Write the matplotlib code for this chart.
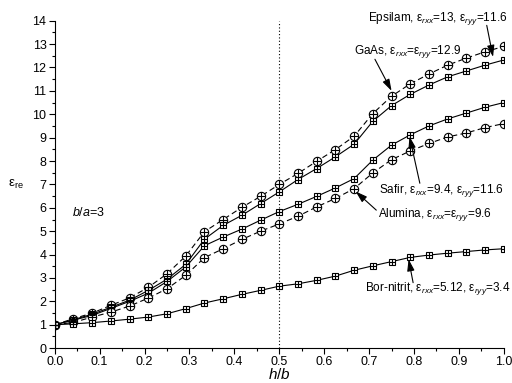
import numpy as np
import matplotlib
matplotlib.use("Agg")
import matplotlib.pyplot as plt
from matplotlib.ticker import MultipleLocator, FormatStrFormatter

plt.rcParams["font.family"] = ["Liberation Sans", "DejaVu Sans"]
plt.rcParams["mathtext.fontset"] = "custom"
plt.rcParams["mathtext.rm"] = "Liberation Sans"
plt.rcParams["mathtext.it"] = "Liberation Sans:italic"

h_b = np.arange(25) / 24.0

gaas = [1.0, 1.26, 1.5, 1.83, 2.15, 2.6, 3.18, 3.94, 4.98, 5.5, 6.02, 6.49, 7.0,
        7.47, 7.99, 8.49, 9.06, 10.03, 10.77, 11.3, 11.72, 12.1, 12.4, 12.67, 12.9]
epsilam = [1.0, 1.22, 1.45, 1.75, 2.05, 2.47, 2.95, 3.58, 4.66, 5.25, 5.68, 6.18, 6.68,
           7.21, 7.68, 8.18, 8.72, 9.7, 10.37, 10.85, 11.25, 11.6, 11.85, 12.1, 12.32]
safir = [1.0, 1.2, 1.4, 1.7, 2.0, 2.35, 2.85, 3.47, 4.38, 4.75, 5.09, 5.47, 5.84,
         6.15, 6.49, 6.85, 7.25, 8.04, 8.68, 9.12, 9.5, 9.8, 10.05, 10.3, 10.5]
alumina = [1.0, 1.1, 1.33, 1.54, 1.8, 2.14, 2.54, 3.11, 3.87, 4.25, 4.65, 5.0, 5.31,
           5.64, 6.04, 6.4, 6.82, 7.49, 8.06, 8.43, 8.75, 9.03, 9.2, 9.43, 9.6]
bor_nitrit = [1.0, 1.04, 1.09, 1.16, 1.24, 1.33, 1.47, 1.69, 1.93, 2.11, 2.3, 2.47, 2.65,
              2.75, 2.9, 3.08, 3.33, 3.52, 3.7, 3.88, 3.98, 4.06, 4.13, 4.2, 4.25]

fig = plt.figure(figsize=(5.12, 3.83), dpi=100)
ax = fig.add_axes([0.107, 0.091, 0.877, 0.855])


def curve(y, marker, ls):
    ms = 6 if marker == "o" else 5
    ax.plot(h_b, y, color="black", lw=0.8, ls=ls, marker=marker, ms=ms,
            mfc="white", mec="black", mew=0.8, zorder=2)
    ax.plot(h_b, y, ls="none", marker="+", ms=ms, mec="black", mew=0.8, zorder=3)


dash = (0, (5, 3))
curve(gaas, "o", dash)
curve(epsilam, "s", "-")
curve(safir, "s", "-")
curve(alumina, "o", dash)
curve(bor_nitrit, "s", "-")

ax.axvline(0.5, color="black", lw=0.8, ls=(0, (1, 2)), zorder=1)

ax.set_xlim(0, 1.0)
ax.set_ylim(0, 14)
ax.xaxis.set_major_locator(MultipleLocator(0.1))
ax.xaxis.set_minor_locator(MultipleLocator(0.05))
ax.yaxis.set_major_locator(MultipleLocator(1))
ax.yaxis.set_minor_locator(MultipleLocator(0.5))
ax.xaxis.set_major_formatter(FormatStrFormatter("%.1f"))
ax.tick_params(which="major", direction="out", length=4, width=0.8, labelsize=9, pad=2)
ax.tick_params(which="minor", direction="out", length=2.5, width=0.8)
for s in ["top", "right"]:
    ax.spines[s].set_visible(False)
for s in ["left", "bottom"]:
    ax.spines[s].set_linewidth(0.8)

ax.set_xlabel(r"$h/b$", fontsize=11, labelpad=-1)
ax.set_ylabel(r"ε$_{\mathrm{re}}$", fontsize=9.5, rotation=0, va="center", ha="center")
ax.yaxis.set_label_coords(-0.087, 0.5)

ax.text(0.039, 5.78, r"$b/a$=3", fontsize=9, va="center")

fs = 8.5
arrow = dict(arrowstyle="-|>,head_length=0.7,head_width=0.22", color="black", lw=0.8,
             mutation_scale=10, shrinkA=0, shrinkB=0)

labels = [
    (r"Epsilam, ε$_{rxx}$=13, ε$_{ryy}$=11.6", 0.697, 14.1, (0.962, 13.8), (0.976, 12.45)),
    (r"GaAs, ε$_{rxx}$=ε$_{ryy}$=12.9", 0.666, 12.67, (0.713, 12.35), (0.75, 11.0)),
    (r"Safir, ε$_{rxx}$=9.4, ε$_{ryy}$=11.6", 0.722, 6.75, (0.813, 7.05), (0.79, 9.05)),
    (r"Alumina, ε$_{rxx}$=ε$_{ryy}$=9.6", 0.72, 5.72, (0.716, 5.9), (0.67, 6.7)),
    (r"Bor-nitrit, ε$_{rxx}$=5.12, ε$_{ryy}$=3.4", 0.69, 2.54, (0.798, 2.8), (0.788, 3.8)),
]
for txt, tx, ty, start, tip in labels:
    ax.text(tx, ty, txt, fontsize=fs, va="center", clip_on=False)
    ax.annotate("", xy=tip, xytext=start, arrowprops=arrow, annotation_clip=False)

fig.savefig("out.png", dpi=100)
